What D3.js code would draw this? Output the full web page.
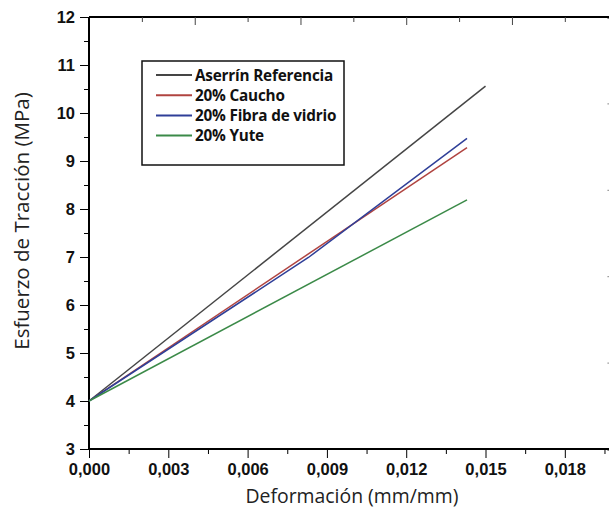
<!DOCTYPE html>
<html>
<head>
<meta charset="utf-8">
<script src="https://cdn.jsdelivr.net/npm/d3@7"></script>
<style>
  body { margin: 0; background: #fff; }
  svg { display: block; font-family: "Open Sans", "DejaVu Sans", sans-serif; }
  .tick text { font-weight: bold; font-size: 16.5px; fill: #111; }
</style>
</head>
<body>
<div id="chart"></div>
<script>
// series (strain mm/mm, stress MPa)
var names = ["Aserrín Referencia", "20% Caucho", "20% Fibra de vidrio", "20% Yute"];
var colors = ["#454545", "#b04440", "#2f3f98", "#3b8a48"];
var serieAserrin = [[0, 4.0], [0.0150, 10.56]];
var serieCaucho  = [[0, 4.0], [0.0143, 9.28]];
var serieFibra   = [[0, 4.0], [0.0083, 6.99], [0.0143, 9.47]];
var serieYute    = [[0, 4.0], [0.0143, 8.19]];
var xTicks = [0, 0.003, 0.006, 0.009, 0.012, 0.015, 0.018];
var yTicks = [3, 4, 5, 6, 7, 8, 9, 10, 11, 12];
var topTicks = [0.002, 0.004, 0.006, 0.008, 0.010, 0.012, 0.014, 0.016, 0.018];
var rightTicks = [4.8, 6.6, 8.4, 10.2];

var series = [serieAserrin, serieCaucho, serieFibra, serieYute];

var W = 609, H = 509;
var fmt = function(d) { return d3.format(".3f")(d).replace(".", ","); };

var svg = d3.select("#chart").append("svg")
    .attr("width", W).attr("height", H);

var x = d3.scaleLinear().domain([0, 0.0198]).range([89, 612.4]);
var y = d3.scaleLinear().domain([3, 12]).range([449, 17]);

// bottom axis, major + minor ticks
var minorX = d3.range(0.0015, 0.0198, 0.003);
svg.append("g").attr("transform", "translate(0,449)")
    .call(d3.axisBottom(x).tickValues(minorX).tickSize(5).tickFormat(""))
    .call(function(g) { g.select(".domain").remove(); });
svg.append("g").attr("transform", "translate(0,449)")
    .call(d3.axisBottom(x).tickValues(xTicks).tickSize(9).tickPadding(5).tickFormat(fmt))
    .call(function(g) {
      g.select(".domain").attr("stroke-width", 2).attr("d", "M89,0H612");
    });

// left axis
var minorY = d3.range(3.5, 12, 1);
svg.append("g").attr("transform", "translate(89,0)")
    .call(d3.axisLeft(y).tickValues(minorY).tickSize(5).tickFormat(""))
    .call(function(g) { g.select(".domain").remove(); });
svg.append("g").attr("transform", "translate(89,0)")
    .call(d3.axisLeft(y).tickValues(yTicks).tickSize(9).tickPadding(5).tickFormat(d3.format("d")))
    .call(function(g) {
      g.select(".domain").attr("stroke-width", 2).attr("d", "M0,17V449");
    });

// top axis, inward ticks
svg.append("g").attr("transform", "translate(0,17)")
    .call(d3.axisTop(x).tickValues(topTicks).tickSize(-5).tickFormat(""))
    .call(function(g) {
      g.select(".domain").attr("stroke-width", 2).attr("d", "M89,0H612");
      g.selectAll(".tick line").filter(function(d) { return Math.round(d * 1000) % 4 === 0; })
        .attr("y2", 8);
      g.selectAll(".tick line").attr("stroke", "#444");
    });

// right axis (mostly outside the window)
svg.append("g").attr("transform", "translate(612.4,0)")
    .call(d3.axisRight(y).tickValues(rightTicks).tickSize(-5).tickFormat(""))
    .call(function(g) {
      g.select(".domain").attr("stroke-width", 2);
      g.selectAll(".tick line").attr("stroke", "#888");
    });

// lines
var line = d3.line().x(function(d) { return x(d[0]); }).y(function(d) { return y(d[1]); });
svg.append("g").selectAll("path").data(series).join("path")
    .attr("d", line)
    .attr("fill", "none")
    .attr("stroke", function(d, i) { return colors[i]; })
    .attr("stroke-width", 1.5);

// legend
var lg = svg.append("g");
lg.append("rect").attr("x", 142).attr("y", 61).attr("width", 202).attr("height", 104)
    .attr("fill", "#fff").attr("stroke", "#111").attr("stroke-width", 1.5);
var items = lg.selectAll("g").data(names).join("g")
    .attr("transform", function(d, i) { return "translate(0," + (75 + i * 20.2) + ")"; });
items.append("line").attr("x1", 156).attr("x2", 192).attr("y1", 0).attr("y2", 0)
    .attr("stroke", function(d, i) { return colors[i]; }).attr("stroke-width", 2);
items.append("text").attr("x", 195).attr("y", 5.5)
    .attr("font-size", 15.3).attr("font-weight", "bold").attr("fill", "#111")
    .attr("letter-spacing", -0.2)
    .text(function(d) { return d; });

// axis titles
svg.append("text").attr("x", 352).attr("y", 503).attr("text-anchor", "middle")
    .attr("font-size", 19.4).attr("fill", "#222").text("Deformación (mm/mm)");
svg.append("text").attr("transform", "translate(29,221) rotate(-90)")
    .attr("text-anchor", "middle").attr("font-size", 20.5).attr("fill", "#222")
    .text("Esfuerzo de Tracción (MPa)");
</script>
</body>
</html>
